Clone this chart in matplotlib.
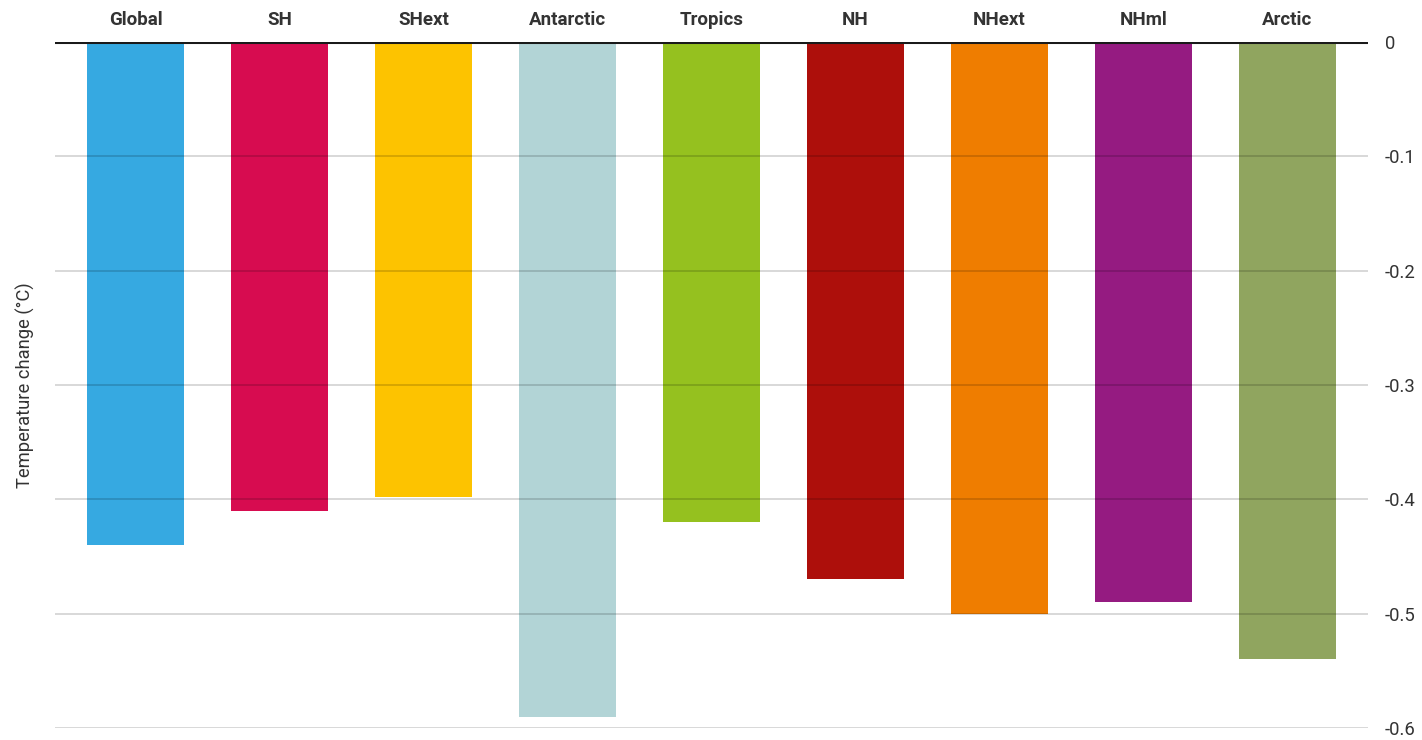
import matplotlib
matplotlib.use("Agg")
import matplotlib.pyplot as plt

plt.rcParams['font.family'] = ['Roboto', 'DejaVu Sans']

# data
regions = ['Global', 'SH', 'SHext', 'Antarctic', 'Tropics', 'NH', 'NHext', 'NHml', 'Arctic']
change = [-0.44, -0.41, -0.398, -0.59, -0.42, -0.47, -0.50, -0.49, -0.54]
colors = ['#36a9e1', '#d70c50', '#fdc300', '#b2d4d6', '#95c11f',
          '#ad0f0b', '#ef7d00', '#951b81', '#90a55f']
yticks = [0, -0.1, -0.2, -0.3, -0.4, -0.5, -0.6]

fig = plt.figure(figsize=(14.22, 7.40), dpi=100)
ax = fig.add_axes([0.0387, 0.0162, 0.9234, 0.927])

x = list(range(len(regions)))
ax.bar(x, change, width=0.67, color=colors, zorder=1)

# gridlines drawn over the bars, like the original
for t in yticks[1:]:
    ax.axhline(t, color='black', alpha=0.18, linewidth=1.2, zorder=2)
ax.axhline(0, color='#1a1a1a', linewidth=2.2, zorder=3)

ax.set_xlim(-0.56, 8.56)
ax.set_ylim(-0.6, 0)

# region names above the zero line
for i, name in enumerate(regions):
    ax.text(i, 0.011, name, ha='center', va='bottom', fontsize=13.5,
            fontweight='bold', color='#333333', clip_on=False)

ax.yaxis.tick_right()
ax.set_yticks(yticks)
ax.set_yticklabels(['0', '-0.1', '-0.2', '-0.3', '-0.4', '-0.5', '-0.6'])
ax.tick_params(axis='y', length=0, pad=12, labelsize=13.3, labelcolor='#333333')
ax.set_xticks([])
for s in ax.spines.values():
    s.set_visible(False)

fig.text(0.018, 0.479, 'Temperature change (°C)', rotation=90, ha='center',
         va='center', fontsize=13.2, color='#333333')

fig.savefig('out.png', dpi=100)
